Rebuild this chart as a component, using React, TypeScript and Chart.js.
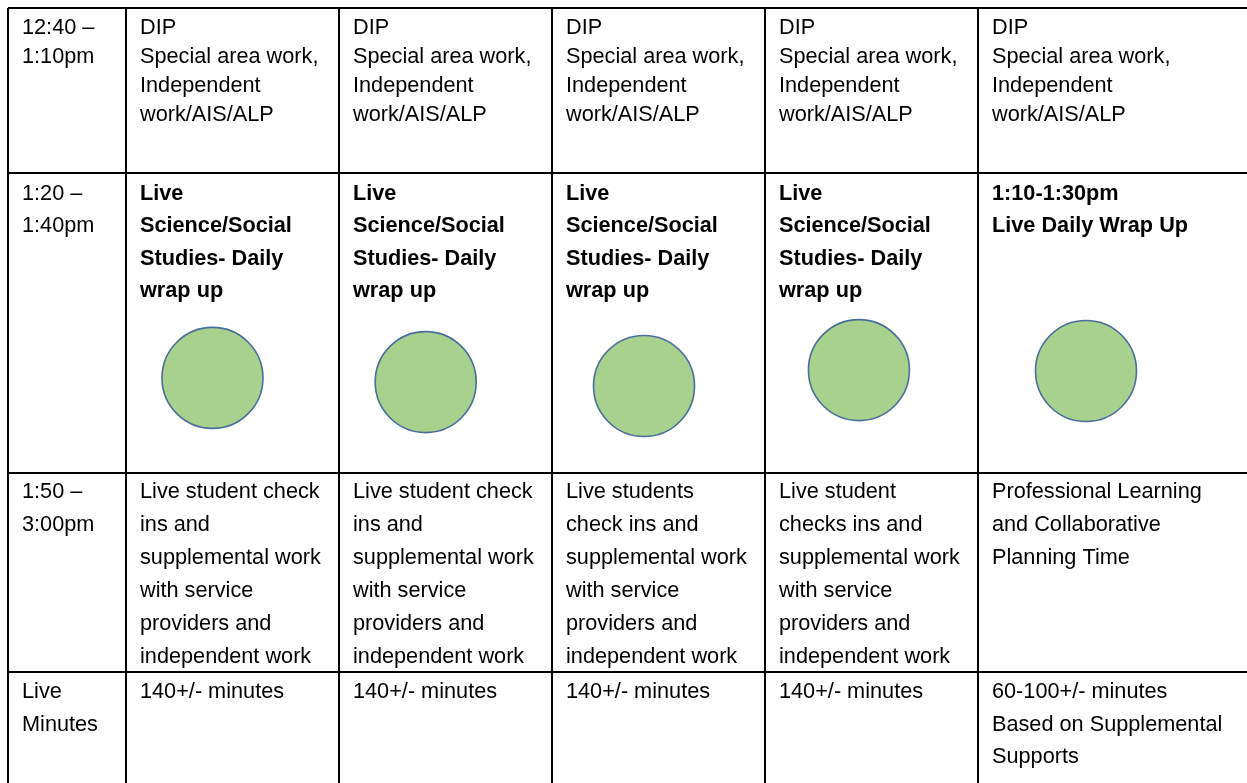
import React, { useEffect, useRef } from "react";
import { Chart, registerables } from "chart.js";

Chart.register(...registerables);

// ---- Data (cell texts) ----
const TIME_SLOTS: string[][] = [
  ["12:40 –", "1:10pm"],
  ["1:20 –", "1:40pm"],
  ["1:50 –", "3:00pm"],
  ["Live", "Minutes"],
];

const DIP_ROW: string[][] = [
  ["DIP", "Special area work,", "Independent", "work/AIS/ALP"],
  ["DIP", "Special area work,", "Independent", "work/AIS/ALP"],
  ["DIP", "Special area work,", "Independent", "work/AIS/ALP"],
  ["DIP", "Special area work,", "Independent", "work/AIS/ALP"],
  ["DIP", "Special area work,", "Independent", "work/AIS/ALP"],
];

const WRAP_ROW: string[][] = [
  ["Live", "Science/Social", "Studies- Daily", "wrap up"],
  ["Live", "Science/Social", "Studies- Daily", "wrap up"],
  ["Live", "Science/Social", "Studies- Daily", "wrap up"],
  ["Live", "Science/Social", "Studies- Daily", "wrap up"],
  ["1:10-1:30pm", "Live Daily Wrap Up"],
];

const CHECKIN_ROW: string[][] = [
  ["Live student check", "ins and", "supplemental work", "with service", "providers and", "independent work"],
  ["Live student check", "ins and", "supplemental work", "with service", "providers and", "independent work"],
  ["Live students", "check ins and", "supplemental work", "with service", "providers and", "independent work"],
  ["Live student", "checks ins and", "supplemental work", "with service", "providers and", "independent work"],
  ["Professional Learning", "and Collaborative", "Planning Time"],
];

const MINUTES_ROW: string[][] = [
  ["140+/- minutes"],
  ["140+/- minutes"],
  ["140+/- minutes"],
  ["140+/- minutes"],
  ["60-100+/- minutes", "Based on Supplemental", "Supports"],
];

// Green "live" markers in the wrap-up row: position inside each day cell (fraction of cell)
const MARKER_X: number[] = [0.406, 0.407, 0.432, 0.441, 0.507];
const MARKER_Y: number[] = [0.683, 0.697, 0.71, 0.657, 0.66];

// ---- Layout / style (table geometry in table units) ----
const W = 1247;
const H = 783;
const PAD_LEFT = 8;
const PAD_TOP = 8;
const COL_EDGES = [0, 118, 331, 544, 757, 970];
const ROW_EDGES = [0, 165, 465, 664];
const DAY_W = 213;
const WRAP_ROW_H = 300;
const ROW_FIRST_BASELINE = [26, 27, 25, 26];
const ROW_LINE_H = [29, 32.3, 33, 32.5];
const TEXT_PAD = 14;
const FONT_SIZE = 21.7;
const FONT_FAMILY = '"Liberation Sans", Arial, Helvetica, sans-serif';

const ROWS: string[][][] = [DIP_ROW, WRAP_ROW, CHECKIN_ROW, MINUTES_ROW];
const BOLD_ROW = [false, true, false, false];

export default function App() {
  const ref = useRef<HTMLCanvasElement | null>(null);

  useEffect(() => {
    if (!ref.current) return;
    const xMax = W - PAD_LEFT;
    const yMax = H - PAD_TOP;
    const dayMin = -COL_EDGES[1] / DAY_W;
    const dayMax = (xMax - COL_EDGES[1]) / DAY_W;
    const rowMin = -ROW_EDGES[1] / WRAP_ROW_H;
    const rowMax = (yMax - ROW_EDGES[1]) / WRAP_ROW_H;

    const textPlugin = {
      id: "cellText",
      afterDatasetsDraw(chart: any) {
        const ctx = chart.ctx as CanvasRenderingContext2D;
        const xs = chart.scales.x;
        const ys = chart.scales.y;
        ctx.save();
        ctx.fillStyle = "#000";
        ctx.textAlign = "left";
        ctx.textBaseline = "alphabetic";
        for (let r = 0; r < ROWS.length; r++) {
          const top = ys.getPixelForValue(ROW_EDGES[r]);
          const base = top + ROW_FIRST_BASELINE[r];
          const lh = ROW_LINE_H[r];
          ctx.font = `${FONT_SIZE}px ${FONT_FAMILY}`;
          const tx = xs.getPixelForValue(COL_EDGES[0]) + TEXT_PAD;
          TIME_SLOTS[r].forEach((t, i) => ctx.fillText(t, tx, base + i * lh));
          ctx.font = `${BOLD_ROW[r] ? "bold " : ""}${FONT_SIZE}px ${FONT_FAMILY}`;
          ROWS[r].forEach((cell, c) => {
            const cx = xs.getPixelForValue(COL_EDGES[c + 1]) + TEXT_PAD;
            cell.forEach((t, i) => ctx.fillText(t, cx, base + i * lh));
          });
        }
        ctx.restore();
      },
    };

    const chart = new Chart(ref.current, {
      type: "scatter",
      data: {
        datasets: [
          {
            data: MARKER_X.map((fx, d) => ({ x: d + fx, y: MARKER_Y[d] })),
            xAxisID: "xd",
            yAxisID: "yr",
            pointRadius: 50.5,
            pointHoverRadius: 50.5,
            backgroundColor: "#a9d18e",
            borderColor: "#4a6d9c",
            borderWidth: 1.6,
            pointStyle: "circle",
            clip: false,
          },
        ],
      },
      options: {
        animation: false,
        responsive: false,
        events: [],
        layout: { autoPadding: false, padding: { left: PAD_LEFT, top: PAD_TOP, right: 0, bottom: 0 } },
        plugins: { legend: { display: false }, tooltip: { enabled: false } },
        scales: {
          x: {
            type: "linear",
            min: 0,
            max: xMax,
            afterBuildTicks: (axis: any) => {
              axis.ticks = COL_EDGES.map((value) => ({ value }));
            },
            ticks: { display: false },
            border: { display: false },
            grid: { color: "#000", lineWidth: 2, drawTicks: false },
          },
          y: {
            type: "linear",
            reverse: true,
            min: 0,
            max: yMax,
            afterBuildTicks: (axis: any) => {
              axis.ticks = ROW_EDGES.map((value) => ({ value }));
            },
            ticks: { display: false },
            border: { display: false },
            grid: { color: "#000", lineWidth: 2, drawTicks: false },
          },
          xd: { type: "linear", display: false, min: dayMin, max: dayMax },
          yr: { type: "linear", display: false, reverse: true, min: rowMin, max: rowMax },
        },
      },
      plugins: [textPlugin],
    } as any);

    return () => chart.destroy();
  }, []);

  return (
    <div style={{ position: "fixed", left: 0, top: 0, width: W, height: H, background: "#fff" }}>
      <canvas ref={ref} width={W} height={H} style={{ display: "block", width: W, height: H }} />
    </div>
  );
}
